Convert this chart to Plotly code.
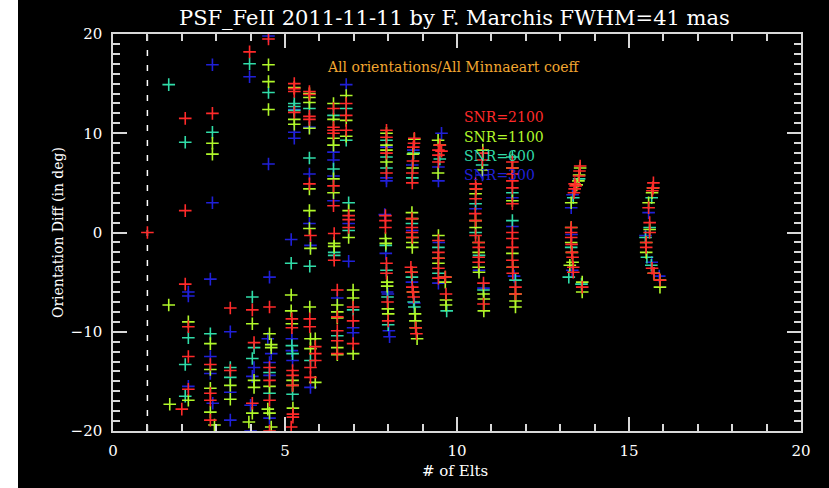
import plotly.graph_objects as go

# Orientation difference (deg) versus number of elements, one list of (x, y) per SNR level
snr2100 = [
    (1.0, 0.0), (2.1, 11.5), (2.89, 12.0), (2.1, 2.2), (3.97, 18.2), (4.52, 19.5), (2.1, -5.2),
    (3.41, -7.6), (4.05, -7.8), (4.55, -7.5), (2.19, -9.5), (2.19, -12.5), (2.19, -15.8),
    (2.0, -17.8), (2.83, -13.3), (2.83, -16.2), (2.83, -16.9), (2.83, -18.9), (3.41, -13.9),
    (4.1, -11.1), (4.05, -17.2), (4.55, -13.6), (4.55, -14.9), (4.55, -16.9), (4.55, -20.0),
    (5.27, 15.0), (5.27, 14.5), (5.27, 14.2), (5.27, 12.1),
    (5.2, -8.7), (5.2, -9.6), (5.22, -13.9), (5.22, -14.4), (5.22, -15.4), (5.23, -18.3),
    (5.23, -18.6), (5.18, -19.6),
    (5.71, 14.2), (5.71, 13.9), (5.71, 11.7), (5.71, 11.4), (5.71, 4.9),
    (5.74, -0.3), (5.72, -8.7), (5.72, -9.5), (5.74, -13.6), (5.74, -14.6),
    (5.88, -11.5), (5.88, -12.2), (5.88, -12.9),
    (6.41, 12.5), (6.41, 10.6), (6.41, 10.3), (6.41, 10.0), (6.41, 4.7), (6.41, 2.7),
    (6.43, -0.1), (6.43, -2.8),
    (6.52, -5.8), (6.52, -8.5), (6.52, -9.9), (6.52, -10.9), (6.52, -12.2),
    (6.78, 13.0), (6.78, 11.8), (6.78, 10.3),
    (6.85, 1.7), (6.85, 1.3), (6.85, 0.5),
    (6.98, -7.5), (6.98, -8.9), (6.98, -11.2),
    (7.95, 10.3), (7.95, 9.6), (7.95, 8.0), (7.95, 6.0),
    (7.92, 1.7), (7.92, 1.2), (7.92, 0.5), (7.95, -3.1), (7.95, -4.1), (7.98, -7.0), (8.0, -8.9),
    (8.76, 9.5), (8.75, 9.0), (8.73, 8.6), (8.72, 7.2), (8.7, 6.0), (8.7, 5.0),
    (8.69, 1.4), (8.69, 0.5), (8.69, 0.0), (8.7, -0.5), (8.66, -3.5), (8.68, -4.0), (8.7, -5.5),
    (8.72, -6.0), (8.74, -6.5), (8.8, -9.6), (8.82, -10.2),
    (9.5, 8.8), (9.46, 8.3), (9.46, 7.8), (9.46, 7.1), (9.55, 8.2),
    (9.46, -0.8), (9.46, -2.0), (9.46, -2.6), (9.46, -3.6), (9.46, -4.6), (9.66, -4.5), (9.68, -6.2),
    (10.54, 4.9), (10.55, 4.4), (10.54, 3.4), (10.53, 1.9), (10.54, 1.2), (10.54, -0.3),
    (10.76, 8.0), (10.74, 7.3),
    (10.63, -1.0), (10.63, -1.5), (10.63, -2.5), (10.63, -3.0), (10.77, -5.1), (10.77, -7.2),
    (11.61, 7.1), (11.61, 6.5), (11.61, 5.9), (11.61, 5.2), (11.61, 4.5), (11.61, 2.9),
    (11.61, 0.0), (11.61, -0.6), (11.61, -1.5), (11.61, -2.8), (11.62, -3.5), (11.62, -4.1),
    (11.7, -5.5), (11.7, -6.2),
    (13.58, 6.7), (13.56, 6.2), (13.55, 5.7), (13.42, 4.9), (13.45, 4.7), (13.42, 4.4), (13.4, 4.0),
    (13.32, 0.5), (13.32, 0.0), (13.32, -0.5), (13.33, -1.2), (13.34, -2.0), (13.36, -2.5),
    (13.38, -3.5), (13.38, -4.0), (13.64, -5.5),
    (15.71, 5.0), (15.7, 4.5), (15.68, 4.2), (15.57, 2.5), (15.6, 1.0), (15.6, 0.0), (15.5, -1.0),
    (15.5, -1.5), (15.67, -3.6), (15.72, -4.1), (15.9, -4.8),
]

snr1100 = [
    (4.52, 16.9), (4.52, 15.2), (4.52, 12.4), (2.89, 9.0), (2.89, 7.9), (1.62, -7.3), (4.05, -9.2),
    (2.19, -9.0), (2.19, -16.9), (1.65, -17.3), (2.83, -11.2), (2.83, -13.8), (2.83, -15.7),
    (2.83, -18.1), (2.95, -19.4), (3.41, -15.4), (3.41, -16.8), (4.1, -14.9), (4.1, -15.6),
    (4.05, -18.2), (3.95, -19.1), (4.55, -10.2), (4.6, -11.3), (4.6, -11.6), (4.55, -15.5),
    (4.5, -17.8), (4.55, -18.2), (4.6, -19.6),
    (5.27, 14.6), (5.27, 11.4), (5.27, 10.9),
    (5.18, -6.3), (5.18, -7.9), (5.2, -9.2), (5.22, -14.9), (5.22, -15.4), (5.23, -17.7),
    (5.71, 14.0), (5.71, 13.6), (5.71, 13.1), (5.71, 10.5), (5.71, 4.4), (5.71, 2.2), (5.71, 0.4),
    (5.74, -1.6), (5.72, -7.5), (5.74, -10.7), (5.74, -11.7),
    (5.88, -10.7), (5.88, -15.1),
    (6.41, 13.0), (6.41, 11.4), (6.41, 9.5), (6.41, 8.8), (6.41, 5.4), (6.41, 4.0),
    (6.43, -1.1), (6.43, -1.4),
    (6.52, -7.3), (6.52, -8.0), (6.52, -8.6), (6.52, -11.6), (6.52, -12.3),
    (6.78, 13.8), (6.78, 11.3), (6.78, 9.7),
    (6.85, 2.2), (6.85, -0.5),
    (6.98, -5.8), (6.98, -6.6), (6.98, -12.2),
    (7.95, 10.0), (7.95, 8.8), (7.95, 8.3), (7.95, 7.1),
    (7.92, -0.6), (7.93, -1.1), (7.97, -5.0), (7.97, -5.4), (7.99, -7.7), (8.0, -8.2),
    (8.76, 9.4), (8.72, 7.9), (8.71, 6.5),
    (8.69, 2.0), (8.7, 1.4), (8.7, -0.5), (8.7, -1.0), (8.7, -1.5), (8.68, -4.0), (8.72, -6.0),
    (8.78, -8.2), (8.79, -8.9), (8.8, -9.6), (8.84, -10.7),
    (9.45, 9.3), (9.5, 8.8), (9.45, 6.0),
    (9.46, -0.3), (9.46, -2.6), (9.46, -3.1), (9.66, -4.5), (9.66, -5.0), (9.68, -6.8), (9.68, -7.3),
    (10.55, 4.4), (10.54, 3.9), (10.54, 1.2), (10.54, 0.5),
    (10.75, 8.3), (10.74, 6.3),
    (10.63, -1.0), (10.63, -2.0), (10.63, -3.5), (10.64, -4.0), (10.77, -6.2), (10.78, -6.7),
    (10.78, -7.9),
    (11.61, 6.5), (11.61, 3.2), (11.61, -2.1), (11.62, -3.5), (11.7, -6.2), (11.7, -6.9), (11.7, -7.5),
    (13.58, 6.5), (13.55, 5.8), (13.53, 5.2), (13.48, 4.8), (13.32, 3.0), (13.32, 0.5), (13.32, -1.0),
    (13.34, -2.0), (13.36, -3.0), (13.28, -3.3), (13.64, -5.0), (13.64, -6.0),
    (15.7, 4.5), (15.67, 4.0), (15.57, 3.0), (15.6, 0.3), (15.5, -1.0), (15.5, -2.0), (15.72, -4.1),
    (15.9, -4.8), (15.9, -5.5),
]

snr600 = [
    (3.97, 17.0), (4.52, 14.1), (1.62, 14.9), (2.89, 10.1), (2.1, 9.1), (4.05, -6.5), (2.19, -10.6),
    (2.1, -13.3), (2.1, -16.5), (2.83, -10.2), (3.41, -13.6), (3.41, -14.6), (4.1, -11.6),
    (4.05, -12.7), (4.55, -14.1), (4.55, -16.2),
    (5.27, 13.0), (5.27, 12.7), (5.27, 12.3),
    (5.18, -3.1), (5.2, -11.4), (5.22, -12.2), (5.22, -16.3),
    (5.71, 12.5), (5.71, 7.5), (5.72, -3.4), (5.74, -12.9),
    (6.41, 11.8), (6.41, 6.4), (6.43, -2.0), (6.43, -2.3), (6.52, -10.4),
    (6.78, 12.5), (6.78, 9.3), (6.85, 3.0), (6.85, 0.2), (6.98, -7.8),
    (7.95, 9.3), (7.95, 7.6), (7.95, 6.5),
    (7.93, -1.3), (7.95, -3.8), (7.98, -6.5), (8.0, -9.3),
    (8.74, 8.0), (8.7, 5.5), (8.69, 0.9), (8.69, -4.5), (8.74, -7.0), (8.76, -7.5),
    (9.5, 7.4), (9.46, -1.5), (9.46, -4.1), (9.7, -7.9),
    (10.54, 2.9), (10.54, 0.0), (10.73, 6.8), (10.64, -2.3), (10.77, -5.8),
    (11.61, 7.6), (11.61, 4.0), (11.61, 1.2), (11.7, -4.8),
    (13.38, 3.5), (13.55, 5.4), (13.32, -1.5), (13.25, -4.5), (13.62, -5.2),
    (15.66, 3.5), (15.6, 0.5), (15.48, -0.5), (15.52, -2.5), (15.65, -3.3),
]

snr300 = [
    (4.52, 19.8), (3.97, 15.7), (2.89, 16.9), (4.52, 6.9), (2.89, 3.0), (2.19, -6.0), (2.19, -6.4),
    (2.83, -4.7), (4.55, -4.5), (2.19, -15.5), (2.83, -12.5), (2.83, -14.2), (2.9, -17.2),
    (3.41, -10.0), (3.41, -16.1), (3.41, -18.9), (4.1, -13.6), (4.05, -14.5), (4.0, -17.4),
    (4.0, -20.0), (4.5, -10.7), (4.6, -12.2), (4.55, -13.1), (4.55, -14.4), (4.55, -18.7),
    (5.27, 12.4), (5.27, 10.1), (5.27, 9.5),
    (5.18, -0.7), (5.2, -10.7), (5.2, -11.9), (5.22, -12.9),
    (5.71, 10.6), (5.71, 5.9), (5.71, 0.9), (5.74, -1.3), (5.74, -15.6),
    (6.41, 8.1), (6.41, 7.3), (6.41, 5.7), (6.41, 3.2), (6.52, -6.6),
    (6.78, 14.9), (6.85, 0.9), (6.85, -2.9), (6.98, -9.6), (6.98, -10.1),
    (7.95, 8.6), (7.95, 5.5), (7.95, 5.2),
    (7.9, 1.8), (7.93, -2.1), (7.97, -6.0), (7.99, -6.2), (8.02, -9.9), (8.04, -10.5),
    (8.73, 8.3), (8.7, 6.8), (8.7, 0.2), (8.69, -5.0), (8.76, -7.1),
    (9.55, 10.0), (9.46, 6.6), (9.46, 5.2), (9.47, -1.0), (9.46, -5.1),
    (10.54, 2.4), (10.74, 5.8), (10.77, -5.6), (10.64, -3.8),
    (11.61, 3.5), (11.61, 0.6), (11.66, -4.4),
    (13.32, 2.5), (13.36, 3.8), (13.33, -0.2), (13.35, -3.8),
    (15.57, 2.0), (15.48, -0.3), (15.66, -3.0), (15.88, -4.4),
]

series_names = ["SNR=2100", "SNR=1100", "SNR=600", "SNR=300"]
series_colors = ["#ff2a2a", "#b0f82a", "#30dca8", "#2020d8"]
series_data = [snr2100, snr1100, snr600, snr300]

x_ticks = [0, 5, 10, 15, 20]
y_ticks = [-20, -10, 0, 10, 20]

FONT = "DejaVu Serif"
AXIS_COLOR = "#d8d8d8"

fig = go.Figure()

# draw the lowest SNR first so the high-SNR crosses sit on top
for name, color, pts in reversed(list(zip(series_names, series_colors, series_data))):
    xs = [p[0] for p in pts]
    ys = [p[1] for p in pts]
    fig.add_trace(go.Scatter(
        x=xs, y=ys, mode="markers", name=name, showlegend=False,
        marker=dict(symbol="cross-thin-open", size=9, color=color,
                    line=dict(color=color, width=1.6)),
    ))

# dashed reference line at one element
fig.add_shape(type="line", xref="x", yref="y", x0=1, x1=1, y0=-20, y1=20,
              line=dict(color="white", width=1.5, dash="6px,9px"), layer="below")

# white strip on the far left of the page
fig.add_shape(type="rect", xref="paper", yref="paper",
              x0=-113 / 688, x1=-95 / 688, y0=-0.16, y1=1.1,
              fillcolor="white", line=dict(width=0), layer="below")

axis_common = dict(
    showgrid=False, zeroline=False, showline=True, linecolor=AXIS_COLOR, linewidth=1.5,
    mirror="allticks", ticks="inside", ticklen=14, tickwidth=1.5, tickcolor=AXIS_COLOR,
    tickfont=dict(family=FONT, size=15, color="white"),
    minor=dict(dtick=1, ticks="inside", ticklen=7, tickwidth=1.5, tickcolor=AXIS_COLOR),
)

fig.update_xaxes(range=[0, 20], tickvals=x_ticks, ticklabelstandoff=5, **axis_common)
fig.update_yaxes(range=[-20, 20], tickvals=y_ticks, ticklabelstandoff=6, **axis_common)

annotations = [
    dict(text="PSF_FeII 2011-11-11 by F. Marchis FWHM=41 mas", xref="paper", yref="paper",
         x=0.497, y=1.040, showarrow=False, xanchor="center", yanchor="middle",
         font=dict(family=FONT, size=21, color="white")),
    dict(text="All orientations/All Minnaeart coeff", xref="x", yref="y",
         x=9.9, y=16.7, showarrow=False, xanchor="center", yanchor="middle",
         font=dict(family=FONT, size=14, color="#f2a630")),
    dict(text="# of Elts", xref="paper", yref="paper", x=0.497, y=-0.102,
         showarrow=False, xanchor="center", yanchor="middle",
         font=dict(family=FONT, size=15, color="white")),
    dict(text="Orientation Diff (in deg)", xref="paper", yref="paper", x=-0.08, y=0.501,
         showarrow=False, xanchor="center", yanchor="middle", textangle=-90,
         font=dict(family=FONT, size=14, color="white")),
]
snr_label_y = [11.6, 9.67, 7.75, 5.84]
for name, color, ly in zip(series_names, series_colors, snr_label_y):
    annotations.append(dict(text=name, xref="x", yref="y", x=10.15, y=ly, showarrow=False,
                            xanchor="left", yanchor="middle",
                            font=dict(family=FONT, size=14, color=color)))

fig.update_layout(
    width=829, height=488,
    margin=dict(l=113, r=28, t=34, b=57),
    paper_bgcolor="black", plot_bgcolor="black",
    annotations=annotations,
)

fig.write_html("out.html")
